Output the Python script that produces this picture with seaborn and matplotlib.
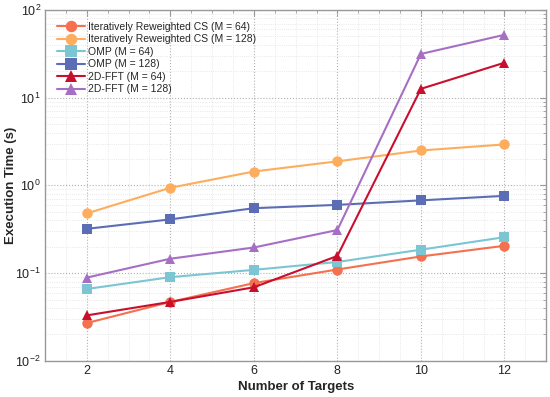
import pandas as pd
import matplotlib
matplotlib.use("Agg")
import matplotlib.pyplot as plt
import seaborn as sns
from matplotlib.ticker import LogLocator, MultipleLocator

# --- DATA ---
targets = [2, 4, 6, 8, 10, 12]

irls_64 = [0.027, 0.047, 0.077, 0.110, 0.155, 0.205]
irls_128 = [0.48, 0.94, 1.44, 1.88, 2.50, 2.93]
omp_64 = [0.066, 0.090, 0.109, 0.134, 0.185, 0.257]
omp_128 = [0.32, 0.41, 0.55, 0.60, 0.675, 0.76]
fft_64 = [0.033, 0.047, 0.069, 0.157, 12.6, 25.0]
fft_128 = [0.089, 0.146, 0.196, 0.31, 31.5, 52.0]

labels = [
    "Iteratively Reweighted CS (M = 64)",
    "Iteratively Reweighted CS (M = 128)",
    "OMP (M = 64)",
    "OMP (M = 128)",
    "2D-FFT (M = 64)",
    "2D-FFT (M = 128)",
]
series = [irls_64, irls_128, omp_64, omp_128, fft_64, fft_128]

colors = ["#f4704f", "#fdad5c", "#7cc5d3", "#5b6db5", "#c8102e", "#a66fc4"]
markers = ["o", "o", "s", "s", "^", "^"]

rows = []
for lab, vals in zip(labels, series):
    for t, v in zip(targets, vals):
        rows.append({"targets": t, "time": v, "method": lab})
df = pd.DataFrame(rows)

# --- PLOT ---
sns.set_style("white")
plt.rcParams["font.family"] = ["Liberation Sans", "DejaVu Sans"]
plt.rcParams["mathtext.fontset"] = "custom"
plt.rcParams["mathtext.rm"] = "Liberation Sans"

fig = plt.figure(figsize=(5.5, 3.97), dpi=100)
ax = fig.add_axes([0.082, 0.091, 0.911, 0.884])

sns.lineplot(
    data=df, x="targets", y="time", hue="method", style="method",
    hue_order=labels, style_order=labels,
    palette=dict(zip(labels, colors)),
    markers=dict(zip(labels, markers)),
    dashes=False, linewidth=1.5, markersize=7.5, markeredgewidth=0,
    ax=ax,
)

ax.set_yscale("log")
ax.set_ylim(1e-2, 1e2)
ax.set_xlim(1, 13)
ax.set_xticks(targets)
ax.yaxis.set_minor_locator(LogLocator(base=10, subs=range(2, 10)))
ax.xaxis.set_minor_locator(MultipleLocator(0.5))

ax.grid(True, which="major", linestyle=":", color="#b0b0b0", linewidth=0.8)
ax.grid(True, which="minor", linestyle=":", color="#e2e2e2", linewidth=0.6)

for sp in ax.spines.values():
    sp.set_color("#999999")
    sp.set_linewidth(1.0)

ax.tick_params(which="both", direction="in", top=True, right=True, colors="#999999",
               labelcolor="#222222", labelsize=9)
ax.tick_params(which="major", length=4, pad=3)
ax.tick_params(which="minor", length=2)

ax.set_xlabel("Number of Targets", fontsize=9.5, fontweight="bold", labelpad=3)
ax.set_ylabel("Execution Time (s)", fontsize=9.5, fontweight="bold")
ax.yaxis.set_label_coords(-0.056, 0.5)

leg = ax.legend(loc="upper left", frameon=False, fontsize=7.5, handlelength=2.7,
                handletextpad=0.25, labelspacing=0.24, borderaxespad=0.75,
                markerscale=1.1)

fig.savefig("out.png", dpi=100)
